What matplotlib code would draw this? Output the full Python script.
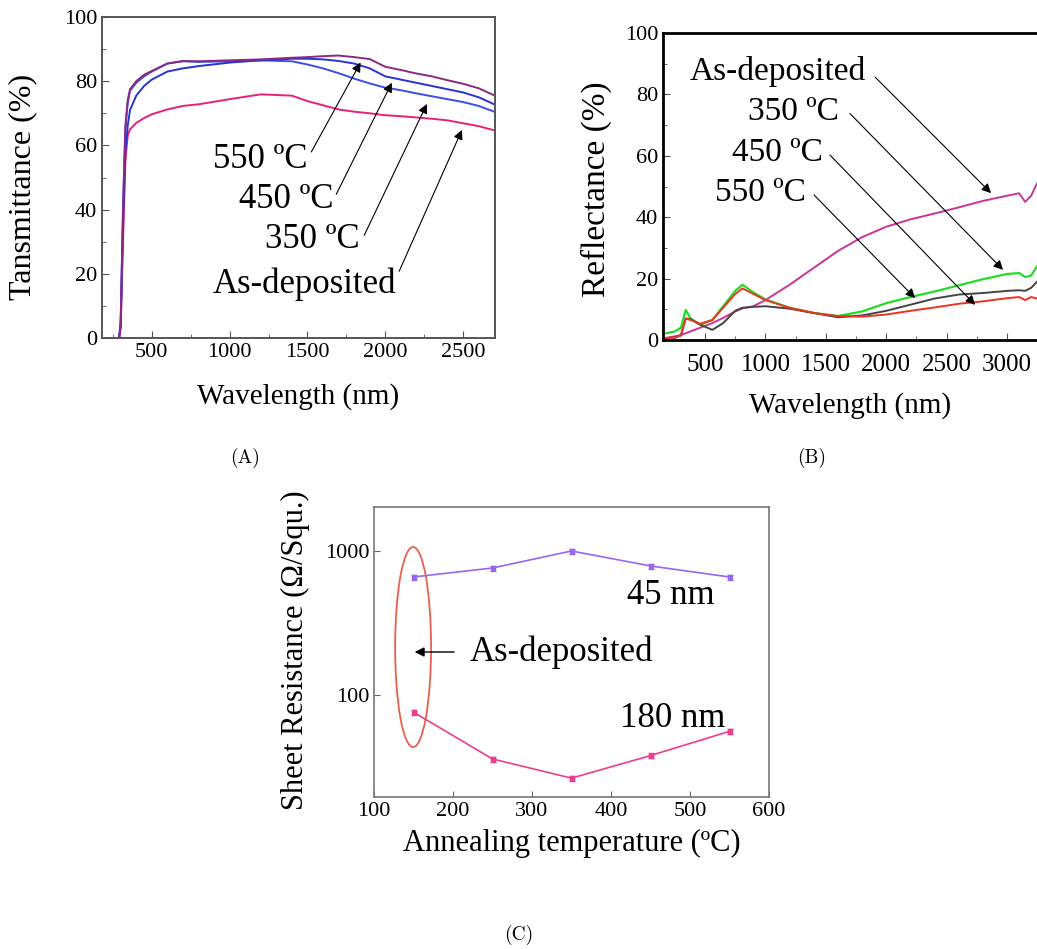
import numpy as np
import matplotlib
matplotlib.use("Agg")
import matplotlib.pyplot as plt
from matplotlib.patches import Ellipse
from matplotlib.ticker import MultipleLocator, NullLocator, FixedLocator

plt.rcParams['font.family'] = ['Liberation Serif', 'DejaVu Serif']

# (A) transmittance spectra
wl_a = [180, 290, 300, 315, 330, 345, 360, 400, 450, 500, 600, 700, 800, 1000, 1200,
        1400, 1500, 1600, 1700, 1800, 1900, 2000, 2100, 2200, 2300, 2400, 2500, 2600, 2700]
t_asdep = [0, 0, 3, 30, 55, 63, 65, 67, 68.5, 69.7, 71.2, 72.3, 72.8, 74.4, 75.9,
           75.5, 73.8, 72.5, 71.2, 70.5, 70, 69.4, 69.1, 68.7, 68.3, 67.8, 66.9, 66, 64.7]
t_350 = [0, 0, 5, 40, 65, 73, 77, 79.5, 81.5, 83, 85.5, 86.2, 86, 86.2, 86.5,
         86.2, 85.2, 84, 82.5, 80.8, 79.3, 78, 77.2, 76.2, 75.3, 74.4, 73.5, 72.3, 70.5]
t_450 = [0, 0, 4, 35, 58, 66, 71, 75.5, 78.5, 80.5, 83, 84, 84.7, 85.8, 86.5,
         87, 87, 86.8, 86.3, 85.5, 84, 81.5, 80.5, 79.5, 78.5, 77.5, 76.5, 75, 72.8]
t_550 = [0, 0, 5, 40, 66, 74, 77.5, 80, 82, 83.2, 85.5, 86.3, 86.2, 86.5, 86.8,
         87.3, 87.5, 87.8, 88, 87.5, 86.9, 84.5, 83.5, 82.4, 81.5, 80.3, 79.2, 77.8, 75.6]

# (B) reflectance spectra
wl_b = [150, 250, 300, 340, 380, 460, 560, 650, 750, 810, 900, 1000, 1200, 1400, 1600,
        1800, 2000, 2200, 2400, 2600, 2800, 3000, 3100, 3150, 3200, 3248]
r_asdep = [0.5, 1.2, 1.6, 2.2, 2.8, 4, 5.5, 7.2, 9.3, 10.3, 11, 13, 18, 23.5, 29,
           33.5, 36.9, 39.3, 41.2, 43.2, 45.3, 47, 47.8, 45, 47, 51]
r_350 = [2, 2.8, 4, 9.8, 7, 5, 6.5, 11, 16, 18, 15.5, 13.2, 10.5, 8.8, 7.8,
         9.3, 12, 14, 15.8, 17.8, 19.8, 21.5, 21.8, 20.5, 21, 24]
r_450 = [0.5, 0.8, 1.5, 7, 6.8, 5, 3.3, 5.5, 9.5, 10.5, 10.8, 11, 10.2, 8.8, 7.4,
         8, 9.5, 11.5, 13.5, 14.8, 15.3, 16, 16.2, 16, 17, 19]
r_550 = [0.5, 0.8, 1.5, 7, 6.5, 5.3, 6.5, 10.5, 15, 16.8, 15, 13, 10.5, 8.8, 7.8,
         7.6, 8.3, 9.5, 10.6, 11.8, 12.6, 13.6, 14, 13, 14, 13.5]

# (C) sheet resistance
temps = [150, 250, 350, 450, 550]
rs_45 = [660, 762, 1000, 787, 660]
rs_180 = [76, 36, 26.5, 38, 56]

W, H = 1037, 949
fig = plt.figure(figsize=(W / 100, H / 100), dpi=100)


def pos(l, t, r, b):
    return [l / W, 1 - b / H, (r - l) / W, (b - t) / H]


# ---------- (A)
ax1 = fig.add_axes(pos(102, 17, 495, 338))
ax1.plot(wl_a, t_asdep, color='#e8207a', lw=1.4)
ax1.plot(wl_a, t_350, color='#3a4ee8', lw=1.4)
ax1.plot(wl_a, t_450, color='#2a32d0', lw=1.4)
ax1.plot(wl_a, t_550, color='#8a2a80', lw=1.4)
ax1.set_xlim(180, 2705)
ax1.set_ylim(0, 100)
ax1.xaxis.set_major_locator(MultipleLocator(500))
ax1.xaxis.set_minor_locator(MultipleLocator(250))
ax1.yaxis.set_major_locator(MultipleLocator(20))
ax1.yaxis.set_minor_locator(MultipleLocator(10))
ax1.tick_params(which='both', direction='in', labelsize=16, color='#555555')
ax1.tick_params(which='major', length=5)
ax1.tick_params(which='minor', length=3)
for s in ax1.spines.values():
    s.set_color('#555555')
    s.set_linewidth(1.4)
ax1.set_ylabel('Tansmittance (%)', fontsize=23)
ax1.yaxis.set_label_coords(-0.165, 0.47)
ax1.set_xlabel('Wavelength (nm)', fontsize=21)
ax1.xaxis.set_label_coords(0.5, -0.14)

arr = dict(arrowstyle='-|>', color='black', lw=0.8, mutation_scale=14)
notes_a = [('550 ºC', (892, 55.6), (1516, 57.2), (1850, 86.6)),
           ('450 ºC', (1060, 43), (1677, 44), (2050, 80.3)),
           ('350 ºC', (1227, 30.6), (1857, 31.2), (2275, 73.7)),
           ('As-deposited', (892, 16.6), (2082, 20), (2500, 65.6))]
for txt, tp, tail, head in notes_a:
    ax1.text(tp[0], tp[1], txt, fontsize=25, va='center', ha='left')
    ax1.annotate('', xy=head, xytext=tail, arrowprops=arr)

# ---------- (B)
ax2 = fig.add_axes(pos(663, 33, 1037, 340))
ax2.plot(wl_b, r_asdep, color='#cc3399', lw=1.4)
ax2.plot(wl_b, r_350, color='#22dd22', lw=1.6)
ax2.plot(wl_b, r_450, color='#444444', lw=1.4)
ax2.plot(wl_b, r_550, color='#ee3322', lw=1.4)
ax2.set_xlim(152, 3248)
ax2.set_ylim(0, 100)
ax2.xaxis.set_major_locator(MultipleLocator(500))
ax2.xaxis.set_minor_locator(MultipleLocator(250))
ax2.yaxis.set_major_locator(MultipleLocator(20))
ax2.yaxis.set_minor_locator(MultipleLocator(10))
ax2.tick_params(which='both', direction='in', color='#555555')
ax2.tick_params(axis='x', labelsize=18, pad=10)
ax2.tick_params(axis='y', labelsize=16)
ax2.tick_params(which='major', length=5)
ax2.tick_params(which='minor', length=3)
ax2.spines['right'].set_visible(False)
for s in ['left', 'top', 'bottom']:
    ax2.spines[s].set_linewidth(2)
ax2.set_ylabel('Reflectance (%)', fontsize=24)
ax2.yaxis.set_label_coords(-0.136, 0.49)
ax2.set_xlabel('Wavelength (nm)', fontsize=21)
ax2.xaxis.set_label_coords(0.5, -0.17)

notes_b = [('As-deposited', (376, 87.4), (1891, 86.3), (2884, 47.2)),
           ('350 ºC', (856, 74.4), (1684, 74.4), (2983, 22.2)),
           ('450 ºC', (724, 60.9), (1518, 60.9), (2752, 10.8)),
           ('550 ºC', (583, 47.9), (1386, 47.9), (2255, 13))]
for txt, tp, tail, head in notes_b:
    ax2.text(tp[0], tp[1], txt, fontsize=24, va='center', ha='left')
    ax2.annotate('', xy=head, xytext=tail, arrowprops=arr)

# ---------- (C)
ax3 = fig.add_axes(pos(374, 507, 769, 797))
ax3.errorbar(temps, rs_45, yerr=[v * 0.04 for v in rs_45], color='#9966ee', lw=1.2,
             marker='s', ms=3, capsize=2)
ax3.errorbar(temps, rs_180, yerr=[v * 0.04 for v in rs_180], color='#ee3d8c', lw=1.2,
             marker='s', ms=3, capsize=2)
ax3.set_yscale('log')
ax3.set_xlim(100, 600)
ax3.set_ylim(19.6, 2020)
ax3.yaxis.set_major_locator(FixedLocator([100, 1000]))
ax3.yaxis.set_minor_locator(NullLocator())
ax3.set_yticklabels(['100', '1000'])
ax3.xaxis.set_major_locator(MultipleLocator(100))
ax3.tick_params(direction='in', labelsize=16, length=4, color='#666666')
for s in ax3.spines.values():
    s.set_color('#777777')
    s.set_linewidth(1.2)
ax3.set_ylabel('Sheet Resistance (Ω/Squ.)', fontsize=22)
ax3.yaxis.set_label_coords(-0.162, 0.507)
ax3.set_xlabel('Annealing temperature (ºC)', fontsize=22)
ax3.xaxis.set_label_coords(0.5, -0.11)

ax3.add_patch(Ellipse((0.099, 0.517), 0.091, 0.69, transform=ax3.transAxes,
                      fill=False, edgecolor='#e8604f', lw=1.3))
ax3.annotate('', xy=(148, 199), xytext=(205, 199),
             arrowprops=dict(arrowstyle='-|>', color='black', lw=1, mutation_scale=14))
ax3.text(221, 199, 'As-deposited', fontsize=25, va='center', ha='left')
ax3.text(420, 494, '45 nm', fontsize=25, va='center', ha='left')
ax3.text(411, 69, '180 nm', fontsize=25, va='center', ha='left')

# captions
for txt, x, y in [('(A)', 245, 458), ('(B)', 812, 458), ('(C)', 519, 935)]:
    fig.text(x / W, 1 - y / H, txt, family='cmr10', fontsize=14, ha='center', va='center')

fig.savefig('out.png', dpi=100)
